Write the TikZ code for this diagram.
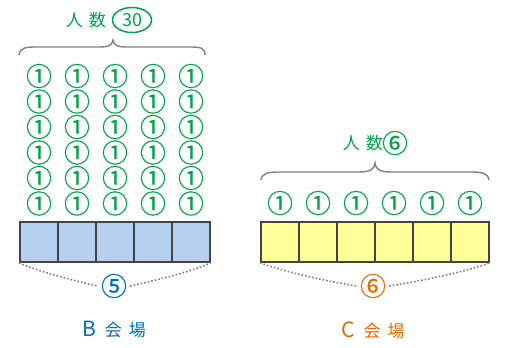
\documentclass[tikz,border=0pt]{standalone}
\usepackage{fontspec}
\usetikzlibrary{shapes.geometric}
\setmainfont{Noto Sans CJK JP}
\newfontfamily\jp{Noto Sans CJK JP}
\newfontfamily\circfont[FakeBold=0.6]{Noto Sans CJK JP}
\definecolor{grn}{RGB}{0,164,72}
\definecolor{blu}{RGB}{0,112,192}
\definecolor{org}{RGB}{228,108,10}
\definecolor{bfill}{RGB}{181,208,240}
\definecolor{yfill}{RGB}{255,255,153}
\definecolor{bord}{RGB}{68,68,68}
\definecolor{brc}{RGB}{128,128,128}
\tikzset{
  cellbox/.style={draw=bord, line width=1.8pt, minimum width=38pt, minimum height=40pt, inner sep=0pt},
  bcell/.style={cellbox, fill=bfill},
  ycell/.style={cellbox, fill=yfill},
  one/.style={text=grn, font=\circfont\fontsize{26}{26}\selectfont, inner sep=0pt},
  lbl/.style={font=\jp\fontsize{17}{17}\selectfont, inner sep=0pt},
  bracepath/.style={draw=brc, line width=1.4pt},
  dotpath/.style={draw=brc, line width=1.6pt, dotted},
}
\begin{document}
\begin{tikzpicture}[x=1pt,y=-1pt]
\useasboundingbox (0,0) rectangle (514,348);
% B hall cells
\foreach \i in {0,...,4} {
  \node[bcell] (b\i) at (39+38*\i,242) {};
}
% C hall cells
\foreach \i in {0,...,5} {
  \node[ycell] (c\i) at (280+38*\i,242) {};
}
% circled ones B
\foreach \i in {0,...,4} {
  \foreach \j in {0,...,5} {
    \node[one] (o\i\j) at (39+38*\i,76+25.5*\j) {①};
  }
}
% circled ones C
\foreach \i in {0,...,5} {
  \node[one] (p\i) at (280+38*\i,203) {①};
}
% top labels
\node[lbl, text=grn, anchor=east] (nb) at (106,20) {人\hspace{6pt}数};
\node[draw=grn, line width=1.5pt, ellipse, minimum width=39pt, minimum height=25pt, inner sep=0pt,
      text=grn, font=\jp\fontsize{18}{18}\selectfont] (n30) at (132,20) {30};
\node[lbl, text=grn, anchor=east] (nc) at (383,143) {人\hspace{6pt}数};
\node[one] (n6t) at (395,143) {⑥};
% braces
\coordinate (bl) at (19,55);
\coordinate (br) at (205,55);
\coordinate (bt) at (113,40);
\draw[bracepath] (bl) .. controls (20,48) and (25,47) .. (36,47) -- (98,47)
  .. controls (108,47) and (112,46) .. (bt) .. controls (114,46) and (118,47) .. (128,47)
  -- (190,47) .. controls (201,47) and (205,48) .. (br);
\coordinate (cl) at (261,180);
\coordinate (cr) at (489,180);
\coordinate (ct) at (375,163);
\draw[bracepath] (cl) .. controls (262,173) and (268,172) .. (280,172) -- (358,172)
  .. controls (370,172) and (374,170) .. (ct) .. controls (376,170) and (380,172) .. (392,172)
  -- (470,172) .. controls (482,172) and (488,173) .. (cr);
% bottom counts
\node[one, text=blu] (n5) at (114,286) {⑤};
\node[one, text=org] (n6) at (373,286) {⑥};
\draw[dotpath] (b0.south west) .. controls (40,272) and (75,281) .. ([xshift=-3pt]n5.west);
\draw[dotpath] ([xshift=3pt]n5.east) .. controls (153,281) and (190,272) .. (b4.south east);
\draw[dotpath] (c0.south west) .. controls (285,272) and (330,282) .. ([xshift=-3pt]n6.west);
\draw[dotpath] ([xshift=3pt]n6.east) .. controls (416,282) and (465,272) .. (c5.south east);
% hall labels
\node[lbl, text=blu] (hb) at (114,330) {{\fontsize{21}{21}\selectfont B}\hspace{9pt}会\hspace{7pt}場};
\node[lbl, text=org] (hc) at (373,330) {{\fontsize{21}{21}\selectfont C}\hspace{9pt}会\hspace{7pt}場};
\end{tikzpicture}
\end{document}
